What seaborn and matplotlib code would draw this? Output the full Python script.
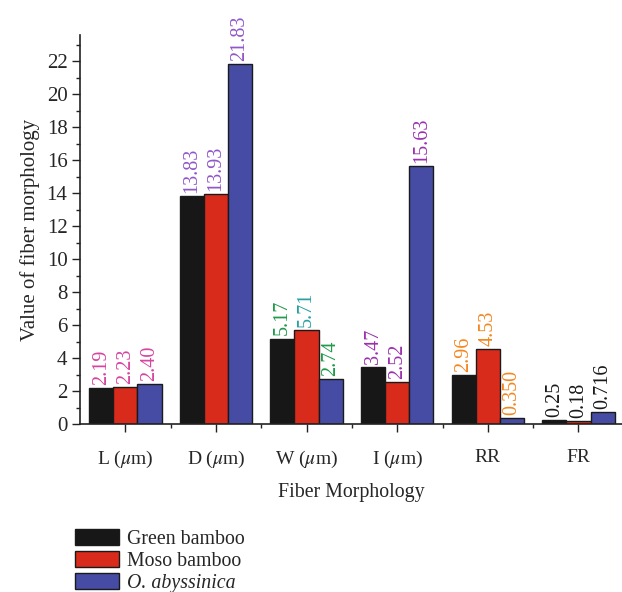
import numpy as np
import pandas as pd
import seaborn as sns
import matplotlib.pyplot as plt
from matplotlib.ticker import MultipleLocator, FixedLocator

# data
categories = [r"L ($\mu$m)", r"D ($\mu$m)", r"W ($\mu$m)", r"I ($\mu$m)", "RR", "FR"]
species = ["Green bamboo", "Moso bamboo", "O. abyssinica"]
green_vals = [2.19, 13.83, 5.17, 3.47, 2.96, 0.25]
moso_vals = [2.23, 13.93, 5.71, 2.52, 4.53, 0.18]
oaby_vals = [2.40, 21.83, 2.74, 15.63, 0.350, 0.716]
green_txt = ["2.19", "13.83", "5.17", "3.47", "2.96", "0.25"]
moso_txt = ["2.23", "13.93", "5.71", "2.52", "4.53", "0.18"]
oaby_txt = ["2.40", "21.83", "2.74", "15.63", "0.350", "0.716"]
# label colours per species per category
green_lc = ["#d7449f", "#9157c9", "#1f9a4a", "#9b31ae", "#f5861f", "#1a1a1a"]
moso_lc = ["#d7449f", "#9157c9", "#2aa0a3", "#9b31ae", "#f5861f", "#1a1a1a"]
oaby_lc = ["#d7449f", "#9157c9", "#1f9a4a", "#9b31ae", "#f5861f", "#1a1a1a"]

bar_colors = ["#171717", "#d92b1c", "#464ca4"]

df = pd.DataFrame({
    "cat": categories * 3,
    "species": [s for s in species for _ in categories],
    "value": green_vals + moso_vals + oaby_vals,
})

sns.set_style("ticks")
plt.rcParams["font.family"] = ["Liberation Serif", "DejaVu Serif"]
plt.rcParams["mathtext.fontset"] = "stix"

fig = plt.figure(figsize=(6.22, 5.92), dpi=100)
ax = fig.add_axes([0.1286, 0.2838, 0.8714, 0.657])

sns.barplot(data=df, x="cat", y="value", hue="species", palette=bar_colors,
            saturation=1, edgecolor="#1a1a1a", linewidth=1.0, width=0.8, ax=ax)

texts = [green_txt, moso_txt, oaby_txt]
colors = [green_lc, moso_lc, oaby_lc]
for k, cont in enumerate(ax.containers):
    for i, bar in enumerate(cont):
        h = bar.get_height()
        ax.text(bar.get_x() + bar.get_width() / 2, h + 0.2, texts[k][i],
                rotation=90, ha="center", va="bottom", fontsize=14.5,
                color=colors[k][i])

ax.set_xlim(-0.5, 5.48)
ax.set_ylim(0, 23.6)
ax.yaxis.set_major_locator(MultipleLocator(2))
ax.yaxis.set_minor_locator(MultipleLocator(1))
ax.xaxis.set_minor_locator(FixedLocator(np.arange(0.5, 5.5, 1)))
ax.tick_params(axis="both", which="major", direction="out", length=6,
               width=1, labelsize=15, color="#222222")
ax.tick_params(axis="both", which="minor", direction="out", length=3,
               width=1, color="#222222")
ax.tick_params(axis="x", labelsize=14, pad=12)
ax.tick_params(axis="y", pad=3)
sns.despine(ax=ax)
for sp in ["left", "bottom"]:
    ax.spines[sp].set_linewidth(1.2)
    ax.spines[sp].set_color("#222222")

ax.set_xlabel("Fiber Morphology", fontsize=14.3, labelpad=9)
ax.set_ylabel("Value of fiber morphology", fontsize=15, labelpad=5)

handles, labels = ax.get_legend_handles_labels()
ax.get_legend().remove()
leg = fig.legend(handles, labels, loc="upper left",
                 bbox_to_anchor=(0.108, 0.12), frameon=False, fontsize=14.3,
                 handlelength=2.2, handleheight=0.85, labelspacing=0.12,
                 handletextpad=0.4, borderaxespad=0)
leg.get_texts()[2].set_style("italic")

fig.savefig("out.png", dpi=100)
